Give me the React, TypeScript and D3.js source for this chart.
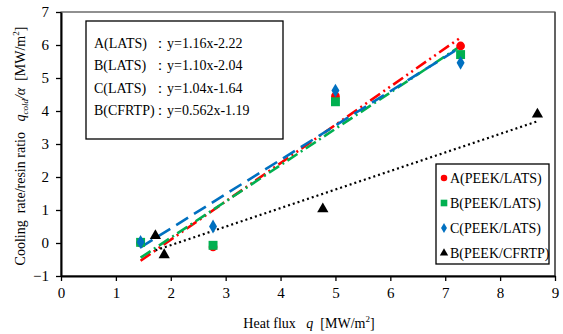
import React, { useEffect, useRef } from "react";
import * as d3 from "d3";

// measured points (heat flux q, cooling rate / resin ratio)
const qA = [1.45, 2.77, 5.0, 7.28];
const valA = [0.0, -0.12, 4.45, 5.97];
const qB = [1.45, 2.77, 5.0, 7.28];
const valB = [0.02, -0.07, 4.28, 5.71];
const qC = [1.45, 2.77, 5.0, 7.28];
const valC = [0.03, 0.5, 4.62, 5.46];
const qCF = [1.72, 1.88, 4.77, 8.68];
const valCF = [0.22, -0.36, 1.03, 3.9];

// linear fits: [slope, intercept]
const fitNames = ["A(LATS)", "B(LATS)", "C(LATS)", "B(CFRTP)"];
const fitText = ["y=1.16x-2.22", "y=1.10x-2.04", "y=1.04x-1.64", "y=0.562x-1.19"];
const fitSlope = [1.16, 1.1, 1.04, 0.562];
const fitIntercept = [-2.22, -2.04, -1.64, -1.19];

const legendNames = ["A(PEEK/LATS)", "B(PEEK/LATS)", "C(PEEK/LATS)", "B(PEEK/CFRTP)"];
const xTicks = [0, 1, 2, 3, 4, 5, 6, 7, 8, 9];
const yTicks = [-1, 0, 1, 2, 3, 4, 5, 6, 7];

const colors = ["#ff0000", "#00b050", "#0070c0", "#000000"];
const dashes = ["12,4,2,4,2,4", "12,4,2,4", "14,7", "2,3"];

export default function App() {
  const ref = useRef<SVGSVGElement>(null);

  useEffect(() => {
    const svg = d3.select(ref.current);
    svg.selectAll("*").remove();
    const font = "Liberation Serif, serif";

    const margin = { top: 12, right: 8, bottom: 58, left: 61 };
    const W = 563, H = 334;
    const x = d3.scaleLinear().domain([0, 9]).range([margin.left, W - margin.right]);
    const y = d3.scaleLinear().domain([-1, 7]).range([H - margin.bottom, margin.top]);

    // frame
    svg.append("rect")
      .attr("x", x(0)).attr("y", y(7))
      .attr("width", x(9) - x(0)).attr("height", y(-1) - y(7))
      .attr("fill", "none").attr("stroke", "#222").attr("stroke-width", 1);
    svg.append("line").attr("x1", x(9)).attr("x2", x(9)).attr("y1", y(7)).attr("y2", y(-1))
      .attr("stroke", "#555").attr("stroke-width", 1.5);

    // axes
    const xAxis = svg.append("g")
      .attr("transform", "translate(0," + y(-1) + ")")
      .call(d3.axisBottom(x).tickValues(xTicks).tickSize(5).tickPadding(6).tickSizeOuter(0));
    const yAxis = svg.append("g")
      .attr("transform", "translate(" + x(0) + ",0)")
      .call(d3.axisLeft(y).tickValues(yTicks).tickSize(5).tickPadding(7).tickSizeOuter(0));
    [xAxis, yAxis].forEach(a => {
      a.attr("font-family", null).attr("font-size", null);
      a.select(".domain").attr("stroke", "#000").attr("stroke-width", 2);
      a.selectAll("line").attr("stroke", "#000").attr("stroke-width", 1.3);
      a.selectAll("text").style("font-family", font).style("font-size", "15px").attr("fill", "#000");
    });

    // fit lines
    const series = [
      { q: qA, v: valA },
      { q: qB, v: valB },
      { q: qC, v: valC },
      { q: qCF, v: valCF },
    ];
    const line = d3.line<number[]>().x(d => x(d[0])).y(d => y(d[1]));
    series.forEach((s, i) => {
      const [lo, hi] = d3.extent(s.q) as [number, number];
      const pts = [lo, hi].map(q => [q, fitSlope[i] * q + fitIntercept[i]]);
      svg.append("path")
        .attr("d", line(pts))
        .attr("fill", "none")
        .attr("stroke", colors[i])
        .attr("stroke-width", i === 3 ? 2.2 : 2.6)
        .attr("stroke-dasharray", dashes[i]);
    });

    // markers
    const symbols = [d3.symbolCircle, d3.symbolSquare, d3.symbolDiamond, d3.symbolTriangle];
    const sizes = [60, 80, 55, 55];
    const drawMarker = (g: any, i: number, px: number, py: number, scale = 1) => {
      g.append("path")
        .attr("d", d3.symbol().type(symbols[i]).size(sizes[i] * scale)())
        .attr("transform", "translate(" + px + "," + py + ")")
        .attr("fill", colors[i]);
    };
    [3, 0, 1, 2].forEach(i => {
      series[i].q.forEach((q, j) => drawMarker(svg, i, x(q), y(series[i].v[j])));
    });

    // equation box
    const eq = svg.append("g").style("font-family", font).style("font-size", "14px");
    eq.append("rect").attr("x", 86).attr("y", 21).attr("width", 197).attr("height", 118)
      .attr("fill", "#fff").attr("stroke", "#000").attr("stroke-width", 1.3);
    fitNames.forEach((n, i) => {
      const yy = 48 + i * 22.3;
      eq.append("text").attr("x", 94).attr("y", yy).text(n);
      eq.append("text").attr("x", 153).attr("y", yy).text("：" + fitText[i]);
    });

    // legend
    const lg = svg.append("g").style("font-family", font).style("font-size", "14px");
    lg.append("rect").attr("x", 436).attr("y", 164).attr("width", 113).attr("height", 100)
      .attr("fill", "#fff").attr("stroke", "#000").attr("stroke-width", 1.3);
    legendNames.forEach((n, i) => {
      const yy = 178 + i * 25;
      drawMarker(lg, i, 444, yy, 0.55);
      lg.append("text").attr("x", 450).attr("y", yy + 5).text(n);
    });

    // x label
    const xl = svg.append("text")
      .attr("x", 309).attr("y", 328).attr("text-anchor", "middle")
      .style("font-family", font).style("font-size", "14px");
    xl.append("tspan").text("Heat flux\u00a0\u00a0\u00a0");
    xl.append("tspan").attr("font-style", "italic").text("q");
    xl.append("tspan").text("\u00a0\u00a0[MW/m");
    xl.append("tspan").style("font-size", "9px").attr("dy", -6).text("2");
    xl.append("tspan").attr("dy", 6).text("]");

    // y label
    const yl = svg.append("text")
      .attr("transform", "translate(25," + 146 + ") rotate(-90)")
      .attr("text-anchor", "middle")
      .style("font-family", font).style("font-size", "14px");
    yl.append("tspan").text("Cooling\u00a0\u00a0rate/resin ratio\u00a0\u00a0\u00a0");
    yl.append("tspan").attr("font-style", "italic").text("q");
    yl.append("tspan").attr("font-style", "italic").style("font-size", "9px").attr("dy", 3).text("cold");
    yl.append("tspan").attr("font-style", "italic").attr("dy", -3).text("/α");
    yl.append("tspan").text("\u00a0\u00a0[MW/m");
    yl.append("tspan").style("font-size", "9px").attr("dy", -6).text("2");
    yl.append("tspan").attr("dy", 6).text("]");
  }, []);

  return (
    <svg ref={ref} width={563} height={334}
      style={{ position: "absolute", left: 0, top: 0, background: "#fff" }} />
  );
}
